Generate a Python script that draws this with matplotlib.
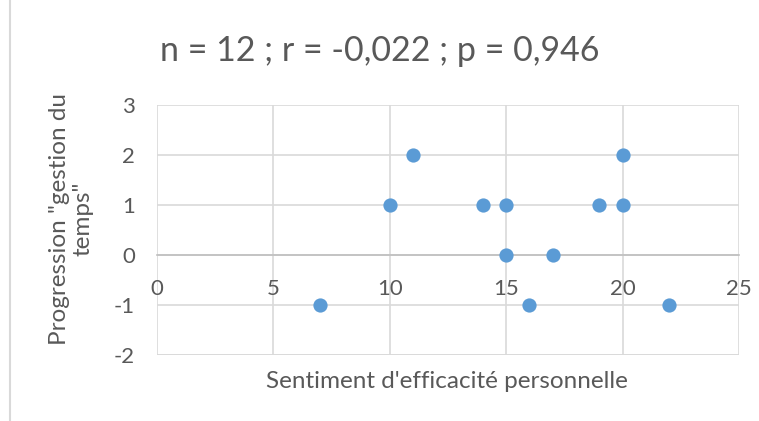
import matplotlib.pyplot as plt
from matplotlib.lines import Line2D

# données
efficacite = [7, 10, 11, 14, 15, 15, 16, 17, 19, 20, 20, 22]
progression = [-1, 1, 2, 1, 1, 0, -1, 0, 1, 2, 1, -1]
x_ticks = [0, 5, 10, 15, 20, 25]
y_ticks = [-2, -1, 0, 1, 2, 3]

plt.rcParams['font.family'] = ['Lato', 'DejaVu Sans']
plt.rcParams['axes.unicode_minus'] = False
grey_txt = '#595959'
grid_col = '#d9d9d9'

fig = plt.figure(figsize=(7.59, 4.21), dpi=100)
ax = fig.add_axes([0.2069, 0.1568, 0.9736 - 0.2069, 0.7506 - 0.1568])

ax.scatter(efficacite, progression, s=105, color='#5b9bd5', zorder=3, linewidths=0)

ax.set_xlim(0, 25)
ax.set_ylim(-2, 3)
ax.set_xticks(x_ticks)
ax.set_yticks(y_ticks)
ax.grid(True, color=grid_col, linewidth=1.2)
ax.set_axisbelow(True)

for s in ['top', 'right', 'left']:
    ax.spines[s].set_visible(False)
ax.spines['bottom'].set_position(('data', 0))
ax.spines['bottom'].set_color('#bfbfbf')
ax.spines['bottom'].set_linewidth(1.2)

ax.tick_params(axis='both', length=0, labelsize=16, labelcolor=grey_txt)
ax.tick_params(axis='x', pad=17)
ax.tick_params(axis='y', pad=16)

# ligne du bas de la zone de tracé
ax.axhline(-2, color=grid_col, linewidth=1.2, zorder=0)

fig.text(0.5, 0.88, 'n = 12 ; r = -0,022 ; p = 0,946', ha='center', va='center',
         fontsize=24.5, color=grey_txt)
fig.text(0.589, 0.095, "Sentiment d'efficacité personnelle", ha='center', va='center',
         fontsize=17.5, color=grey_txt)
fig.text(0.094, 0.48, 'Progression "gestion du\ntemps"', ha='center', va='center',
         rotation=90, fontsize=17.5, color=grey_txt, linespacing=1.1)

# bord du cadre du graphique à gauche
fig.add_artist(Line2D([0.013, 0.013], [0, 1], color='#d9d9d9', linewidth=1.5))

fig.savefig('out.png', dpi=100)
